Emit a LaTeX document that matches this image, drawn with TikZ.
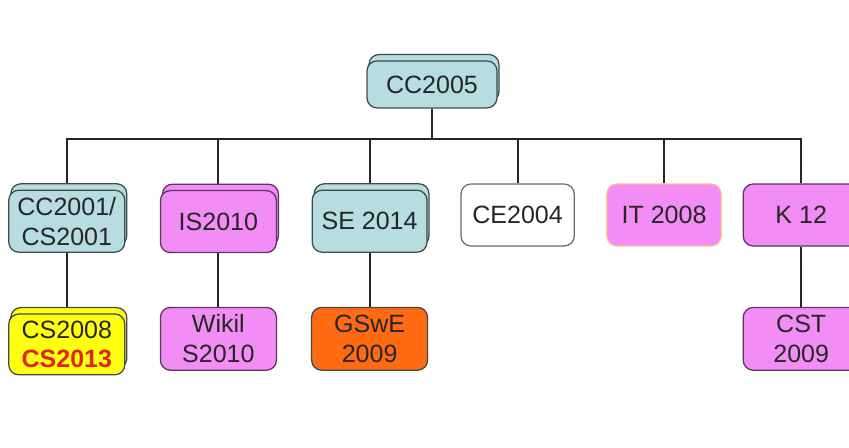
\documentclass[tikz,border=0pt]{standalone}
\usepackage{fontspec}
\setmainfont{Liberation Sans}
\usepackage{xcolor}
\usepackage{tikz}
\usetikzlibrary{positioning,backgrounds,shadows}
\definecolor{ccblue}{HTML}{B7DDE0}
\definecolor{ccpink}{HTML}{F28DF6}
\definecolor{ccyellow}{HTML}{FFFF10}
\definecolor{ccorange}{HTML}{FF6A12}
\definecolor{ccred}{HTML}{E3261A}
\definecolor{ccedge}{HTML}{3E4A4C}
\definecolor{ccplum}{HTML}{5C345C}
\definecolor{ccpeach}{HTML}{F3C595}
\definecolor{ccink}{HTML}{262626}

\begin{document}
\begin{tikzpicture}[font=\fontsize{17.8}{21.3}\selectfont,
    curbox/.style={draw=ccedge,text=ccink,line width=0.9pt,rounded corners=0.25cm,align=center,
      minimum width=2.9cm,minimum height=1.55cm,inner sep=1pt},
    stack/.style={copy shadow={shadow xshift=0.05cm,shadow yshift=0.16cm}},
    link/.style={line width=1.3pt,ccink}]
    \useasboundingbox (0,0) rectangle (21.225,-11.175);
    % top
    \node[curbox,stack,fill=ccblue,minimum width=3.25cm,minimum height=1.175cm] (cc05) at (10.8,-2.11){CC2005};
    % first row
    \node[curbox,stack,fill=ccblue] (c2001) at (1.67,-5.53){CC2001/\\CS2001};
    \node[curbox,stack,fill=ccpink,draw=ccplum] (is10) at (5.46,-5.54){IS2010};
    \node[curbox,stack,fill=ccblue,minimum width=2.87cm] (se14) at (9.24,-5.53){SE 2014};
    \node[curbox,fill=white,draw=ccedge!80,minimum width=2.83cm] (ce04) at (12.94,-5.375){CE2004};
    \node[curbox,fill=ccpink,draw=ccpeach,minimum width=2.86cm] (it08) at (16.6,-5.375){IT 2008};
    \node[curbox,fill=ccpink,draw=ccplum] (k12) at (20.03,-5.375){K 12};
    % second row
    \node[curbox,stack,fill=ccyellow,minimum height=1.52cm] (cs08) at (1.67,-8.61){CS2008\\\textcolor{ccred}{\textbf{CS2013}}};
    \node[curbox,fill=ccpink,draw=ccplum,minimum height=1.57cm] (wiki) at (5.46,-8.47){Wikil\\S2010};
    \node[curbox,fill=ccorange,draw=ccedge,minimum height=1.57cm] (gswe) at (9.24,-8.47){GSwE\\2009};
    \node[curbox,fill=ccpink,draw=ccplum,minimum height=1.57cm] (cst) at (20.03,-8.47){CST\\2009};
    \coordinate (bar) at (0,-3.475);
    \begin{scope}[on background layer]
      \draw[link] (cc05) -- (cc05 |- bar);
      \draw[link] (c2001) -- (c2001 |- bar) -| (k12);
      \foreach \n in {is10,se14,ce04,it08}{
        \draw[link] (\n) -- (\n |- bar);
      }
      \draw[link] (c2001) -- (cs08);
      \draw[link] (is10) -- (wiki);
      \draw[link] (se14) -- (gswe);
      \draw[link] (k12) -- (cst);
    \end{scope}
  \end{tikzpicture}
\end{document}
